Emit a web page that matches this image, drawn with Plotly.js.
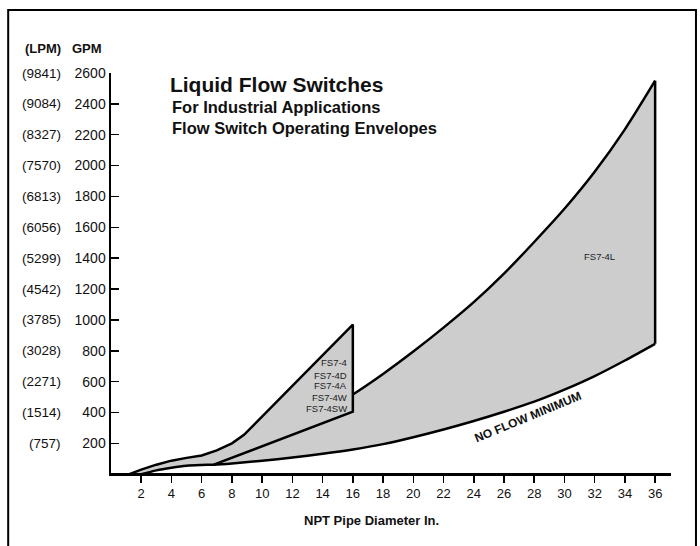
<!DOCTYPE html>
<html>
<head>
<meta charset="utf-8">
<script src="https://cdn.plot.ly/plotly-3.0.1.min.js"></script>
<style>
  html, body { margin: 0; padding: 0; background: #ffffff; }
  #chart { width: 700px; height: 546px; }
</style>
</head>
<body>
<div id="chart"></div>
<script>
// ---- Data ----
// NO FLOW MINIMUM curve (GPM vs NPT pipe diameter in.)
var noFlowX = [2, 3, 4, 5, 6, 6.8, 8, 10, 12, 14, 16, 18, 20, 22, 24, 26, 28, 30, 32, 34, 36];
var noFlowY = [0, 25, 42, 55, 60, 62, 70, 88, 108, 132, 160, 195, 240, 290, 345, 405, 470, 548, 636, 737, 845];

// FS7-4L upper envelope
var bigUpperX = [6.8, 8, 10, 12, 14, 16, 18, 20, 22, 24, 26, 28, 30, 32, 34, 36];
var bigUpperY = [62, 125, 205, 295, 400, 517, 650, 795, 950, 1115, 1300, 1505, 1720, 1960, 2235, 2550];

// FS7-4 family upper envelope
var smallUpperX = [1.2, 2, 3, 4, 5, 6, 7, 8, 8.8, 16];
var smallUpperY = [0, 30, 62, 88, 106, 122, 155, 200, 255, 970];

// FS7-4 family lower boundary (straight segment end points)
var smallLowerX = [16, 6.8];
var smallLowerY = [405, 62];

// Tick labels
var xTicks = [2, 4, 6, 8, 10, 12, 14, 16, 18, 20, 22, 24, 26, 28, 30, 32, 34, 36];
var gpmTicks = [200, 400, 600, 800, 1000, 1200, 1400, 1600, 1800, 2000, 2200, 2400, 2600];
var lpmLabels = ['(757)', '(1514)', '(2271)', '(3028)', '(3785)', '(4542)', '(5299)', '(6056)', '(6813)', '(7570)', '(8327)', '(9084)', '(9841)'];

// Region labels
var smallModels = ['FS7-4', 'FS7-4D', 'FS7-4A', 'FS7-4W', 'FS7-4SW'];
var smallModelY = [723, 643, 572, 498, 423];
var smallModelX = 15.75;
var bigModel = 'FS7-4L';
var bigModelPos = [32.35, 1410];
var noFlowLabel = 'NO FLOW MINIMUM';
var noFlowLabelPos = [27.6, 370];

// ---- Build polygons ----
var FILL = '#cdcdcd';
var NOLINE = {width: 0, color: 'rgba(0,0,0,0)'};

// Big region: upper curve, then down the right edge, back along the no-flow curve
var bigX = bigUpperX.slice();
var bigY = bigUpperY.slice();
var nfRightX = [], nfRightY = [];
for (var i = 0; i < noFlowX.length; i++) {
  if (noFlowX[i] >= 6.8) { nfRightX.push(noFlowX[i]); nfRightY.push(noFlowY[i]); }
}
for (var i2 = nfRightX.length - 1; i2 >= 0; i2--) { bigX.push(nfRightX[i2]); bigY.push(nfRightY[i2]); }

// Small region: upper curve, right edge down, straight lower edge, then no-flow curve back to start
var smX = smallUpperX.concat(smallLowerX);
var smY = smallUpperY.concat(smallLowerY);
for (var j = noFlowX.length - 1; j >= 0; j--) {
  if (noFlowX[j] < 6.8) { smX.push(noFlowX[j]); smY.push(noFlowY[j]); }
}
smX.push(smallUpperX[0]); smY.push(smallUpperY[0]);

var last = bigUpperX.length - 1;
var lastNF = noFlowX.length - 1;
function lineTrace(x, y, shape) {
  return {x: x, y: y, mode: 'lines', line: {color: '#000', width: 2.5, shape: shape || 'linear', smoothing: 0.8},
    hoverinfo: 'skip', showlegend: false};
}

var traces = [
  {x: bigX, y: bigY, mode: 'lines', fill: 'toself', fillcolor: FILL, line: NOLINE, hoverinfo: 'skip', showlegend: false},
  lineTrace(bigUpperX, bigUpperY, 'spline'),
  lineTrace([bigUpperX[last], noFlowX[lastNF]], [bigUpperY[last], noFlowY[lastNF]]),
  {x: smX, y: smY, mode: 'lines', fill: 'toself', fillcolor: FILL, line: NOLINE, hoverinfo: 'skip', showlegend: false},
  lineTrace(smallUpperX.concat(smallLowerX), smallUpperY.concat(smallLowerY)),
  lineTrace(noFlowX, noFlowY, 'spline'),
  lineTrace([smallUpperX[0], noFlowX[0]], [smallUpperY[0], noFlowY[0]])
];

var FONT = '"Liberation Sans", Arial, Helvetica, sans-serif';

var annotations = [];
// LPM column
for (var k = 0; k < gpmTicks.length; k++) {
  annotations.push({xref: 'paper', yref: 'y', x: -0.0855, y: gpmTicks[k], text: lpmLabels[k],
    showarrow: false, xanchor: 'right', yanchor: 'middle', font: {family: FONT, size: 13.5, color: '#111'}});
}
// Column headers
annotations.push({xref: 'paper', yref: 'paper', x: -0.0855, y: 1.0625, text: '<b>(LPM)</b>', showarrow: false,
  xanchor: 'right', yanchor: 'middle', font: {family: FONT, size: 13, color: '#111'}});
annotations.push({xref: 'paper', yref: 'paper', x: -0.0125, y: 1.0625, text: '<b>GPM</b>', showarrow: false,
  xanchor: 'right', yanchor: 'middle', font: {family: FONT, size: 13, color: '#111'}});
// Subtitles
annotations.push({xref: 'paper', yref: 'paper', x: 0.1052, y: 0.9158, text: '<b>For Industrial Applications</b>', showarrow: false,
  xanchor: 'left', yanchor: 'middle', font: {family: FONT, size: 16.5, color: '#111'}});
annotations.push({xref: 'paper', yref: 'paper', x: 0.1052, y: 0.8633, text: '<b>Flow Switch Operating Envelopes</b>', showarrow: false,
  xanchor: 'left', yanchor: 'middle', font: {family: FONT, size: 16.5, color: '#111'}});
// X axis title
annotations.push({xref: 'paper', yref: 'paper', x: 0.465, y: -0.1175, text: '<b>NPT Pipe Diameter In.</b>', showarrow: false,
  xanchor: 'center', yanchor: 'middle', font: {family: FONT, size: 13, color: '#111'}});
// Model labels
for (var m = 0; m < smallModels.length; m++) {
  annotations.push({x: smallModelX, y: smallModelY[m], text: smallModels[m], showarrow: false,
    xanchor: 'right', yanchor: 'middle', font: {family: FONT, size: 9.5, color: '#222'}});
}
annotations.push({x: bigModelPos[0], y: bigModelPos[1], text: bigModel, showarrow: false,
  xanchor: 'center', yanchor: 'middle', font: {family: FONT, size: 9.5, color: '#222'}});
annotations.push({x: noFlowLabelPos[0], y: noFlowLabelPos[1], text: '<b>' + noFlowLabel + '</b>', showarrow: false,
  textangle: -22.5, xanchor: 'center', yanchor: 'middle', font: {family: FONT, size: 12, color: '#111'}});

var layout = {
  width: 700, height: 546,
  margin: {l: 111, r: 29, t: 73, b: 73, pad: 0},
  paper_bgcolor: '#ffffff', plot_bgcolor: '#ffffff',
  font: {family: FONT, size: 13, color: '#111'},
  title: {text: '<b>Liquid Flow Switches</b>', xref: 'paper', yref: 'paper', x: 0.1052, y: 0.97,
    xanchor: 'left', yanchor: 'middle', font: {family: FONT, size: 21, color: '#111'}},
  xaxis: {range: [0, 37.05], tickvals: xTicks, ticktext: xTicks.map(String), ticks: 'outside', ticklen: 7,
    tickwidth: 1.5, tickcolor: '#000', showline: true, linecolor: '#000', linewidth: 2.5, showgrid: false,
    zeroline: false, tickfont: {family: FONT, size: 13, color: '#111'}, fixedrange: true},
  yaxis: {range: [8, 2600], tickvals: gpmTicks, ticktext: gpmTicks.map(String), ticks: 'inside', ticklen: 8,
    tickwidth: 1.5, tickcolor: '#000', showline: true, linecolor: '#000', linewidth: 2.5, showgrid: false,
    zeroline: false, tickfont: {family: FONT, size: 14, color: '#111'}, fixedrange: true},
  shapes: [
    {type: 'rect', xref: 'paper', yref: 'paper', x0: -0.1836, x1: 1.0446, y0: -0.5, y1: 1.1575,
      line: {color: '#000', width: 2}, fillcolor: 'rgba(0,0,0,0)', layer: 'below'}
  ],
  annotations: annotations,
  showlegend: false
};

Plotly.newPlot('chart', traces, layout, {staticPlot: true, displayModeBar: false});
</script>
</body>
</html>
